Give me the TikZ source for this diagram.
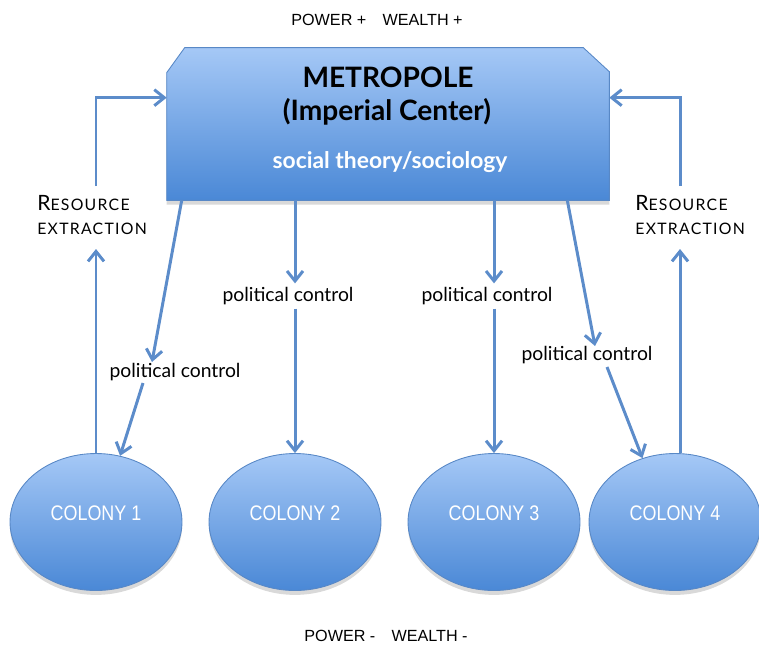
\documentclass[tikz,border=0pt]{standalone}
\usepackage{fontspec}
\setmainfont{Lato}
\newfontfamily\arialfont{Liberation Sans}
\newfontfamily\narrowfont[FakeStretch=0.85]{Liberation Sans}
\definecolor{boxtop}{RGB}{165,200,246}
\definecolor{boxbot}{RGB}{74,136,214}
\definecolor{edgeblue}{RGB}{88,136,198}
\definecolor{arrblue}{RGB}{92,140,202}
\usetikzlibrary{arrows.meta,positioning,shapes.geometric,calc,backgrounds,shadows}

\begin{document}
\begin{tikzpicture}[x=0.02cm,y=-0.02cm,
  metbox/.style={rectangle,minimum width=8.84cm,minimum height=3.04cm,inner sep=0pt},
  metfill/.style={top color=boxtop,bottom color=boxbot,draw=edgeblue,line width=0.5pt,
    drop shadow={opacity=0.3,shadow xshift=0pt,shadow yshift=-2.5pt}},
  colony/.style={ellipse,draw=edgeblue,line width=0.5pt,top color=boxtop,bottom color=boxbot,
    minimum width=3.44cm,minimum height=2.74cm,inner sep=0pt,
    drop shadow={opacity=0.3,shadow xshift=0pt,shadow yshift=-2.5pt}},
  clbl/.style={font=\narrowfont\fontsize{12}{14}\selectfont,text=white,yshift=0.18cm},
  title/.style={font=\bfseries\fontsize{16}{18}\selectfont},
  sub/.style={font=\bfseries\fontsize{13}{15}\selectfont,text=white},
  ctrl/.style={font=\fontsize{11}{13}\selectfont,inner sep=2pt},
  res/.style={anchor=west,align=left,inner sep=0pt,
    font=\fontsize{9}{13.6}\selectfont\addfontfeature{LetterSpace=8}},
  pw/.style={font=\arialfont\fontsize{9.2}{11}\selectfont},
  arr/.style={-{Straight Barb[length=2mm,width=3.2mm]},line width=1.7pt,arrblue}
]
  \useasboundingbox (0,0) rectangle (759,646);
  % Power / wealth
  \node[pw] (ptop) at (377,20) {POWER +\hspace{1em}WEALTH +};
  \node[pw] (pbot) at (386,636) {POWER -\hspace{1em}WEALTH -};
  % Metropole
  \node[metbox] (metro) at (388,124) {};
  \begin{scope}[on background layer]
    \shadedraw[metfill] (metro.south west) -- ($(metro.north west)+(0,25)$)
      -- ($(metro.north west)+(18,0)$) -- ($(metro.north east)+(-26,0)$)
      -- ($(metro.north east)+(0,24)$) -- (metro.south east) -- cycle;
  \end{scope}
  \node[title] (mname) at (388,77) {METROPOLE};
  \node[title] (mcenter) at (387,112) {(Imperial Center)};
  \node[sub] (mtheory) at (390,162) {social theory/sociology};
  % Colonies
  \foreach \i/\x in {1/96,2/295,3/494,4/675}
    \node[colony,label={[clbl]center:COLONY \i}] (c\i) at (\x,522) {};
  % Resource extraction
  \node[res] (res1) at (37,215) {{\fontsize{12}{13}\selectfont R}ESOURCE\\EXTRACTION};
  \node[res] (res4) at (635,215) {{\fontsize{12}{13}\selectfont R}ESOURCE\\EXTRACTION};
  \coordinate (r1lo) at (96,249);
  \coordinate (r1hi) at (96,186);
  \coordinate (r4lo) at (680,249);
  \coordinate (r4hi) at (680,186);
  \draw[arr] (c1.north) -- (r1lo);
  \draw[arr] (r1hi) |- ($(metro.north west)+(0,50)$);
  \draw[arr] (c4.north -| r4lo) -- (r4lo);
  \draw[arr] (r4hi) |- ($(metro.north east)+(0,50)$);
  % Political control
  \node[ctrl] (pc1) at (175,372) {political control};
  \node[ctrl] (pc2) at (288,296) {political control};
  \node[ctrl] (pc3) at (487,296) {political control};
  \node[ctrl] (pc4) at (587,355) {political control};
  \coordinate (p1hi) at (152,362);
  \coordinate (p1lo) at (143,383);
  \coordinate (p4hi) at (595,346);
  \coordinate (p4lo) at (607,367);
  \draw[arr] ($(metro.south west)+(15,0)$) -- (p1hi);
  \draw[arr] (p1lo) -- (c1.70);
  \draw[arr] (metro.south -| c2) -- (pc2.north -| c2);
  \draw[arr] (pc2.south -| c2) -- (c2.north);
  \draw[arr] (metro.south -| c3) -- (pc3.north -| c3);
  \draw[arr] (pc3.south -| c3) -- (c3.north);
  \draw[arr] ($(metro.south east)+(-42,0)$) -- (p4hi);
  \draw[arr] (p4lo) -- (c4.117);
\end{tikzpicture}
\end{document}
